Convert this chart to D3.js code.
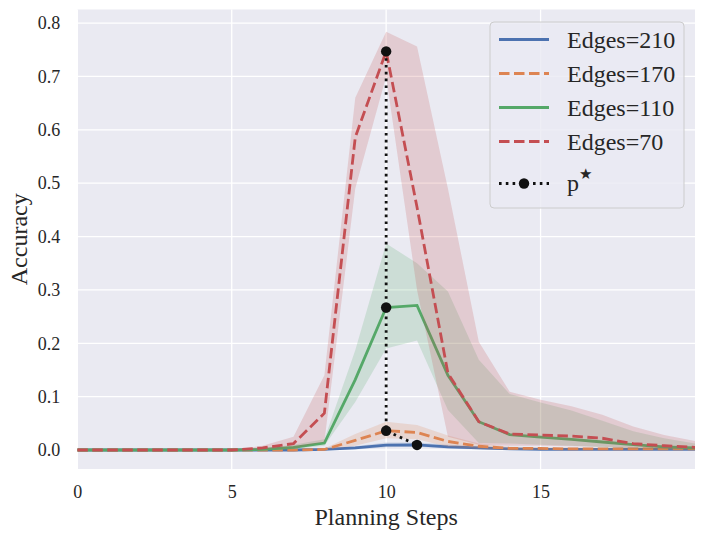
<!DOCTYPE html>
<html>
<head>
<meta charset="utf-8">
<script src="https://cdn.jsdelivr.net/npm/d3@7"></script>
<style>
  body { margin: 0; background: #fff; }
  svg text { font-family: "Liberation Serif", "Times New Roman", serif; fill: #262626; }
</style>
</head>
<body>
<div id="chart"></div>
<script>
// Planning steps on the x axis
const steps = [0,1,2,3,4,5,6,7,8,9,10,11,12,13,14,15,16,17,18,19,20];

// Edges=210
const mean210 = [0,0,0,0,0,0,0,0,0.001,0.004,0.009,0.0095,0.006,0.004,0.002,0.001,0.001,0.001,0.001,0.001,0.001];
const lo210   = [0,0,0,0,0,0,0,0,0,0.001,0.005,0.006,0.003,0.001,0,0,0,0,0,0,0];
const hi210   = [0,0,0,0,0,0,0,0,0.002,0.007,0.014,0.014,0.010,0.007,0.004,0.003,0.003,0.003,0.002,0.002,0.002];

// Edges=170
const mean170 = [0,0,0,0,0,0,0,0,0.001,0.018,0.036,0.033,0.016,0.007,0.003,0.003,0.002,0.002,0.002,0.002,0.002];
const lo170   = [0,0,0,0,0,0,0,0,0,0.008,0.022,0.020,0.006,0.002,0,0,0,0,0,0,0];
const hi170   = [0,0,0,0,0,0,0,0,0.003,0.030,0.053,0.047,0.027,0.012,0.006,0.005,0.005,0.004,0.004,0.004,0.004];

// Edges=110
const mean110 = [0,0,0,0,0,0,0.001,0.005,0.013,0.132,0.267,0.271,0.140,0.053,0.029,0.024,0.020,0.015,0.010,0.006,0.004];
const lo110   = [0,0,0,0,0,0,0,0.002,0.008,0.090,0.190,0.205,0.075,0.013,0.012,0.010,0.008,0.005,0.003,0.001,0];
const hi110   = [0,0,0,0,0,0,0.003,0.010,0.020,0.187,0.387,0.350,0.297,0.169,0.105,0.089,0.074,0.055,0.035,0.022,0.012];

// Edges=70
const mean70 = [0,0,0,0,0,0,0.004,0.012,0.069,0.586,0.747,0.455,0.144,0.053,0.030,0.028,0.026,0.022,0.012,0.008,0.005];
const lo70   = [0,0,0,0,0,0,0.001,0.003,0.015,0.490,0.700,0.300,0.025,0.010,0.008,0.008,0.007,0.006,0.003,0.002,0.001];
const hi70   = [0,0,0,0,0,0,0.008,0.025,0.140,0.660,0.784,0.756,0.490,0.203,0.109,0.094,0.082,0.066,0.044,0.028,0.017];

// p* markers
const pStarX = [10, 10, 10, 11];
const pStarY = [0.747, 0.267, 0.036, 0.0095];

const seriesNames = ["Edges=210", "Edges=170", "Edges=110", "Edges=70"];
const xTicks = [0, 5, 10, 15];
const yTicks = [0, 0.1, 0.2, 0.3, 0.4, 0.5, 0.6, 0.7, 0.8];

const width = 705, height = 540;
const plot = { left: 77.3, right: 695, top: 9.5, bottom: 469 };
const serif = "Liberation Serif";

const svg = d3.select("#chart")
  .append("svg")
  .attr("width", width)
  .attr("height", height)
  .attr("font-family", serif);

const x = d3.scaleLinear().domain([0, 20]).range([plot.left, plot.right]);
const y = d3.scaleLinear().domain([-0.0356, 0.8255]).range([plot.bottom, plot.top]);

// background
svg.append("rect")
  .attr("x", plot.left).attr("y", plot.top)
  .attr("width", plot.right - plot.left)
  .attr("height", plot.bottom - plot.top)
  .attr("fill", "#EAEAF2");

// grid lines
svg.append("g")
  .selectAll("line")
  .data(xTicks)
  .join("line")
  .attr("x1", d => x(d)).attr("x2", d => x(d))
  .attr("y1", plot.top).attr("y2", plot.bottom)
  .attr("stroke", "#fff").attr("stroke-width", 1.3);

svg.append("g")
  .selectAll("line")
  .data(yTicks)
  .join("line")
  .attr("x1", plot.left).attr("x2", plot.right)
  .attr("y1", d => y(d)).attr("y2", d => y(d))
  .attr("stroke", "#fff").attr("stroke-width", 1.3);

// axes (labels only, seaborn style has no spines)
const xAxis = svg.append("g")
  .attr("transform", `translate(0,${plot.bottom})`)
  .call(d3.axisBottom(x).tickValues(xTicks).tickFormat(d3.format("d")).tickSize(0).tickPadding(16));
xAxis.select(".domain").remove();
xAxis.attr("font-family", null).attr("font-size", null);
xAxis.selectAll("text")
  .style("font-family", serif)
  .style("font-size", "18px")
  .attr("fill", "#262626");

const yAxis = svg.append("g")
  .attr("transform", `translate(${plot.left},0)`)
  .call(d3.axisLeft(y).tickValues(yTicks).tickFormat(d3.format(".1f")).tickSize(0).tickPadding(17));
yAxis.select(".domain").remove();
yAxis.attr("font-family", null).attr("font-size", null);
yAxis.selectAll("text")
  .style("font-family", serif)
  .style("font-size", "18px")
  .attr("fill", "#262626");

svg.append("text")
  .attr("x", (plot.left + plot.right) / 2)
  .attr("y", 525)
  .attr("text-anchor", "middle")
  .attr("font-size", 24)
  .text("Planning Steps");

svg.append("text")
  .attr("transform", `translate(27,${(plot.top + plot.bottom) / 2}) rotate(-90)`)
  .attr("text-anchor", "middle")
  .attr("font-size", 24)
  .text("Accuracy");

// series
const colors = ["#4C72B0", "#DD8452", "#55A868", "#C44E52"];
const dashes = [null, "10.5,4.5", null, "10.5,4.5"];
const means = [mean210, mean170, mean110, mean70];
const lows = [lo210, lo170, lo110, lo70];
const highs = [hi210, hi170, hi110, hi70];

svg.append("clipPath").attr("id", "clip")
  .append("rect")
  .attr("x", plot.left).attr("y", plot.top)
  .attr("width", plot.right - plot.left)
  .attr("height", plot.bottom - plot.top);

const body = svg.append("g").attr("clip-path", "url(#clip)");

const area = d3.area()
  .x(d => x(d.x))
  .y0(d => y(d.lo))
  .y1(d => y(d.hi));

const line = d3.line()
  .x(d => x(d.x))
  .y(d => y(d.y));

means.forEach((m, i) => {
  const rows = steps.map((s, j) => ({ x: s, y: m[j], lo: lows[i][j], hi: highs[i][j] }));
  body.append("path")
    .datum(rows)
    .attr("d", area)
    .attr("fill", colors[i])
    .attr("fill-opacity", 0.2);
  body.append("path")
    .datum(rows)
    .attr("d", line)
    .attr("fill", "none")
    .attr("stroke", colors[i])
    .attr("stroke-width", 2.8)
    .attr("stroke-dasharray", dashes[i]);
});

// p* dotted line with markers
const pRows = pStarX.map((s, j) => ({ x: s, y: pStarY[j] }));
body.append("path")
  .datum(pRows)
  .attr("d", line)
  .attr("fill", "none")
  .attr("stroke", "#111")
  .attr("stroke-width", 2.8)
  .attr("stroke-dasharray", "2.6,4.2");

body.selectAll(".pstar")
  .data(pRows)
  .join("circle")
  .attr("class", "pstar")
  .attr("cx", d => x(d.x))
  .attr("cy", d => y(d.y))
  .attr("r", 5.2)
  .attr("fill", "#111");

// legend
const legend = svg.append("g");
legend.append("rect")
  .attr("x", 490).attr("y", 22)
  .attr("width", 194).attr("height", 186)
  .attr("rx", 4)
  .attr("fill", "#EAEAF2").attr("fill-opacity", 0.8)
  .attr("stroke", "#cccccc").attr("stroke-width", 1);

const rowY = [39.5, 73.5, 107.5, 141.5];
seriesNames.forEach((name, i) => {
  legend.append("line")
    .attr("x1", 499).attr("x2", 549)
    .attr("y1", rowY[i]).attr("y2", rowY[i])
    .attr("stroke", colors[i])
    .attr("stroke-width", 2.8)
    .attr("stroke-dasharray", dashes[i]);
  legend.append("text")
    .attr("x", 567).attr("y", rowY[i] + 8)
    .attr("font-size", 24)
    .text(name);
});

legend.append("line")
  .attr("x1", 499).attr("x2", 549)
  .attr("y1", 183.5).attr("y2", 183.5)
  .attr("stroke", "#111")
  .attr("stroke-width", 2.8)
  .attr("stroke-dasharray", "2.6,4.2");
legend.append("circle")
  .attr("cx", 524).attr("cy", 183.5).attr("r", 5.2).attr("fill", "#111");
const pText = legend.append("text")
  .attr("x", 567).attr("y", 191)
  .attr("font-size", 24);
pText.append("tspan").text("p");
pText.append("tspan")
  .attr("dy", -12)
  .attr("font-size", 15)
  .text("★");
</script>
</body>
</html>
